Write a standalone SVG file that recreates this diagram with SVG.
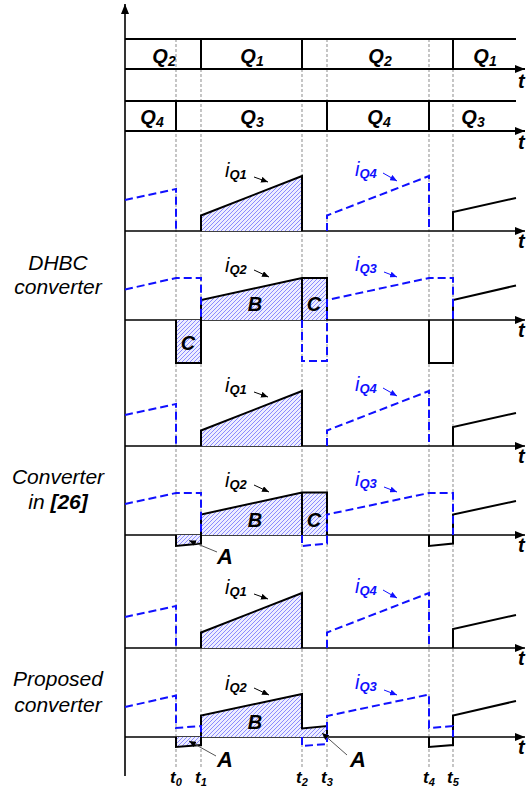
<svg xmlns="http://www.w3.org/2000/svg" width="528" height="790" viewBox="0 0 528 790">
<style>
text{font-family:"Liberation Sans",Arial,sans-serif;font-style:italic;fill:#000}
.q{font-size:20px;font-weight:bold}
.qs{font-size:14px}
.lbl{font-size:21px;text-anchor:middle}
.big{font-size:20px;font-weight:bold;text-anchor:middle}
.a{font-size:22px;font-weight:bold;text-anchor:middle}
.il{font-size:20px}
.is{font-size:13px;font-weight:bold}
.blue{fill:#1010ff}
.tt{font-size:20px;font-weight:bold}
.tb{font-size:17px;font-weight:bold;text-anchor:middle}
.tbs{font-size:11px}
.ax{stroke:#000;stroke-width:1.6;fill:none}
.qb{stroke:#000;stroke-width:2;fill:none}
.blk{stroke:#000;stroke-width:2;fill:none}
.bl{stroke:#1010ff;stroke-width:2;fill:none;stroke-dasharray:8 4}
.dot{stroke:#a0a0a0;stroke-width:1.2;stroke-dasharray:3 2}
.h{fill:url(#hatch);stroke:none}
.ptr{stroke:#555;stroke-width:1;fill:none}
.sk{stroke:#000;stroke-width:1;fill:none}
.sb{stroke:#1010ff;stroke-width:1;fill:none}
</style>
<defs>
<pattern id="hatch" patternUnits="userSpaceOnUse" width="4" height="4">
<rect width="4" height="4" fill="#eeeeff"/>
<path d="M-1,1 L1,-1 M0,4 L4,0 M3,5 L5,3" stroke="#8080ff" stroke-width="0.9"/>
</pattern>
<marker id="arr" markerWidth="10" markerHeight="8" refX="10" refY="4" orient="auto" markerUnits="userSpaceOnUse"><path d="M0,0 L10,4 L0,8 z" fill="#000"/></marker>
<marker id="sa" markerWidth="7" markerHeight="6" refX="7" refY="3" orient="auto" markerUnits="userSpaceOnUse"><path d="M0,0 L7,3 L0,6 z" fill="#000"/></marker>
<marker id="sab" markerWidth="7" markerHeight="6" refX="7" refY="3" orient="auto" markerUnits="userSpaceOnUse"><path d="M0,0 L7,3 L0,6 z" fill="#1010ff"/></marker>
</defs>
<rect width="528" height="790" fill="#fff"/>

<g id="grid">
<path class="dot" d="M176,39 V768 M201,39 V768 M302,39 V768 M327,39 V768 M429,39 V768 M453,39 V768"/>
</g>

<g id="axes">
<path class="ax" d="M125,776 V4" marker-end="url(#arr)"/>
<path class="ax" d="M125,231 H525" marker-end="url(#arr)"/>
<path class="ax" d="M125,320 H525" marker-end="url(#arr)"/>
<path class="ax" d="M125,446 H525" marker-end="url(#arr)"/>
<path class="ax" d="M125,535 H525" marker-end="url(#arr)"/>
<path class="ax" d="M125,648 H525" marker-end="url(#arr)"/>
<path class="ax" d="M125,737 H525" marker-end="url(#arr)"/>
<text class="tt" x="518" y="88">t</text>
<text class="tt" x="518" y="149">t</text>
<text class="tt" x="518" y="248">t</text>
<text class="tt" x="518" y="337">t</text>
<text class="tt" x="518" y="463">t</text>
<text class="tt" x="518" y="552">t</text>
<text class="tt" x="518" y="665">t</text>
<text class="tt" x="518" y="754">t</text>
</g>

<g id="gate-q1q2">
<path class="qb" d="M125,39 H516"/>
<path class="qb" d="M125,69 H525" marker-end="url(#arr)"/>
<path class="qb" d="M201,39 V69 M302,39 V69 M453,39 V69"/>
<text class="q" x="164" y="63" text-anchor="middle">Q<tspan class="qs" dy="3">2</tspan></text>
<text class="q" x="252" y="63" text-anchor="middle">Q<tspan class="qs" dy="3">1</tspan></text>
<text class="q" x="380" y="63" text-anchor="middle">Q<tspan class="qs" dy="3">2</tspan></text>
<text class="q" x="485" y="63" text-anchor="middle">Q<tspan class="qs" dy="3">1</tspan></text>
</g>

<g id="gate-q3q4">
<path class="qb" d="M125,101 H516"/>
<path class="qb" d="M125,131 H525" marker-end="url(#arr)"/>
<path class="qb" d="M176,101 V131 M327,101 V131 M429,101 V131"/>
<text class="q" x="152" y="124" text-anchor="middle">Q<tspan class="qs" dy="3">4</tspan></text>
<text class="q" x="252" y="124" text-anchor="middle">Q<tspan class="qs" dy="3">3</tspan></text>
<text class="q" x="379" y="124" text-anchor="middle">Q<tspan class="qs" dy="3">4</tspan></text>
<text class="q" x="473" y="124" text-anchor="middle">Q<tspan class="qs" dy="3">3</tspan></text>
</g>

<g id="side-labels">
<text class="lbl" x="58" y="270">DHBC</text>
<text class="lbl" x="58" y="294">converter</text>
<text class="lbl" x="58" y="484">Converter</text>
<text class="lbl" x="58" y="509">in <tspan font-weight="bold">[26]</tspan></text>
<text class="lbl" x="58" y="686">Proposed</text>
<text class="lbl" x="58" y="712">converter</text>
</g>

<g id="panel1">
<path class="h" d="M201,231 V215.5 L302,176 V231 Z"/>
<path class="bl" d="M125,200 L176,189 V231"/>
<path class="blk" d="M201,231 V215.5 L302,176 V231"/>
<path class="bl" d="M327,231 V215.5 L429,176 V231"/>
<path class="blk" d="M453,231 V212 L516,198"/>
<text class="il" x="225" y="177">i<tspan class="is" dy="2">Q1</tspan></text>
<text class="il blue" x="355" y="176">i<tspan class="is" dy="2">Q4</tspan></text>
</g>

<g id="panel2">
<path class="h" d="M176,320 V363 H201 V320 Z"/>
<path class="h" d="M201,320 V300 L302,278 H327 V320 Z"/>
<path class="blk" d="M176,320 V363 H201 V300 L302,278 H327 V320 M302,278 V320"/>
<path class="blk" d="M429,320 V363 H453 V300 L516,285.5"/>
<path class="bl" d="M125,289.5 L176,278 H201 V320"/>
<path class="bl" d="M302,320 V361 H327 V300 L429,278 H453 V320"/>
<text class="il" x="225" y="272">i<tspan class="is" dy="2">Q2</tspan></text>
<text class="il blue" x="355" y="271">i<tspan class="is" dy="2">Q3</tspan></text>
<text class="big" x="255" y="311">B</text>
<text class="big" x="314" y="311">C</text>
<text class="big" x="188" y="350">C</text>
</g>

<g id="panel3">
<path class="h" d="M201,446 V430.5 L302,391 V446 Z"/>
<path class="bl" d="M125,415 L176,404 V446"/>
<path class="blk" d="M201,446 V430.5 L302,391 V446"/>
<path class="bl" d="M327,446 V430.5 L429,391 V446"/>
<path class="blk" d="M453,446 V427 L516,413"/>
<text class="il" x="225" y="392">i<tspan class="is" dy="2">Q1</tspan></text>
<text class="il blue" x="355" y="391">i<tspan class="is" dy="2">Q4</tspan></text>
</g>

<g id="panel4">
<path class="h" d="M176,535 V546 L201,543.5 V535 Z"/>
<path class="h" d="M201,535 V514.5 L302,492.5 H327 V535 Z"/>
<path class="blk" d="M176,535 V546 L201,543.5 V514.5 L302,492.5 H327 V535 M302,492.5 V535"/>
<path class="blk" d="M429,535 V546 L453,543.5 V514.5 L516,501"/>
<path class="bl" d="M125,504 L176,493 H201 V535"/>
<path class="bl" d="M302,535 V546 L327,543.5 V514.5 L429,493 H453 V535"/>
<text class="il" x="225" y="487">i<tspan class="is" dy="2">Q2</tspan></text>
<text class="il blue" x="355" y="486">i<tspan class="is" dy="2">Q3</tspan></text>
<text class="big" x="255" y="527">B</text>
<text class="big" x="314" y="527">C</text>
<text class="a" x="225" y="564">A</text>
</g>

<g id="panel5">
<path class="h" d="M201,648 V632.5 L302,593 V648 Z"/>
<path class="bl" d="M125,617 L176,606 V648"/>
<path class="blk" d="M201,648 V632.5 L302,593 V648"/>
<path class="bl" d="M327,648 V632.5 L429,593 V648"/>
<path class="blk" d="M453,648 V629 L516,615"/>
<text class="il" x="225" y="594">i<tspan class="is" dy="2">Q1</tspan></text>
<text class="il blue" x="355" y="593">i<tspan class="is" dy="2">Q4</tspan></text>
</g>

<g id="panel6">
<path class="h" d="M176,737 V747 L201,745 V737 Z"/>
<path class="h" d="M201,737 V715.5 L302,694 V728.5 L327,726 V737 Z"/>
<path class="blk" d="M176,737 V747 L201,745 V715.5 L302,694 V728.5 L327,726 V737"/>
<path class="blk" d="M429,737 V747 L453,745 V715.5 L516,701"/>
<path class="bl" d="M125,707 L176,695.5 V728 L201,726 V737"/>
<path class="bl" d="M302,737 V746 L327,744 V716 L429,694.5 V728 L453,726 V737"/>
<text class="il" x="225" y="690">i<tspan class="is" dy="2">Q2</tspan></text>
<text class="il blue" x="355" y="689">i<tspan class="is" dy="2">Q3</tspan></text>
<text class="big" x="255" y="729">B</text>
<text class="a" x="225" y="767">A</text>
<text class="a" x="358" y="767">A</text>
</g>

<g id="connectors">
<path class="sk" d="M254,177 L268,182" marker-end="url(#sa)"/>
<path class="sb" d="M383,173 L397,181" marker-end="url(#sab)"/>
<path class="sk" d="M254,270 L269,277" marker-end="url(#sa)"/>
<path class="sb" d="M384,272 L397,277" marker-end="url(#sab)"/>
<path class="sk" d="M254,392 L268,397" marker-end="url(#sa)"/>
<path class="sb" d="M383,388 L397,396" marker-end="url(#sab)"/>
<path class="sk" d="M254,485 L269,492" marker-end="url(#sa)"/>
<path class="sb" d="M384,487 L397,492" marker-end="url(#sab)"/>
<path class="sk" d="M254,594 L268,599" marker-end="url(#sa)"/>
<path class="sb" d="M383,590 L397,598" marker-end="url(#sab)"/>
<path class="sk" d="M254,688 L269,695" marker-end="url(#sa)"/>
<path class="sb" d="M384,690 L397,695" marker-end="url(#sab)"/>
<path class="ptr" d="M217,552 L189,540.5" marker-end="url(#sa)"/>
<path class="ptr" d="M216,756 L189,741" marker-end="url(#sa)"/>
<path class="ptr" d="M347,755 L322,733" marker-end="url(#sa)"/>
</g>

<g id="time-labels">
<text class="tb" x="176" y="783">t<tspan class="tbs" dy="3">0</tspan></text>
<text class="tb" x="201" y="783">t<tspan class="tbs" dy="3">1</tspan></text>
<text class="tb" x="302" y="783">t<tspan class="tbs" dy="3">2</tspan></text>
<text class="tb" x="327" y="783">t<tspan class="tbs" dy="3">3</tspan></text>
<text class="tb" x="429" y="783">t<tspan class="tbs" dy="3">4</tspan></text>
<text class="tb" x="453" y="783">t<tspan class="tbs" dy="3">5</tspan></text>
</g>
</svg>
